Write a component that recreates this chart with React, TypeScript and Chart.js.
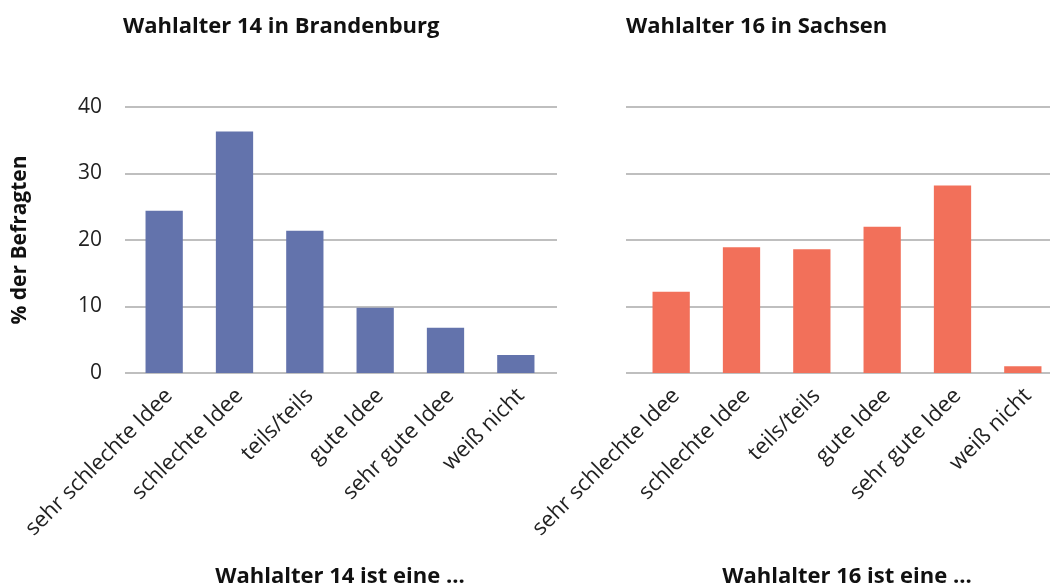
import React, { useEffect, useRef } from "react";
import { Chart, registerables } from "chart.js";

Chart.register(...registerables);

const categories = [
  "sehr schlechte Idee",
  "schlechte Idee",
  "teils/teils",
  "gute Idee",
  "sehr gute Idee",
  "weiß nicht",
];
const brandenburg = [24.4, 36.3, 21.4, 9.8, 6.8, 2.7];
const sachsen = [12.2, 18.9, 18.6, 22.0, 28.2, 1.0];
const yTicks = [0, 10, 20, 30, 40];

const titleLeft = "Wahlalter 14 in Brandenburg";
const titleRight = "Wahlalter 16 in Sachsen";
const xTitleLeft = "Wahlalter 14 ist eine ...";
const xTitleRight = "Wahlalter 16 ist eine ...";
const yTitle = "% der Befragten";

const BLUE = "#6373AC";
const RED = "#F2705A";
const GRID = "#BFBFBF";
const FONT = "'Open Sans', sans-serif";

const gridPlugin = {
  id: "extGrid",
  beforeDatasetsDraw(chart: any, _args: any, opts: any) {
    const { ctx, chartArea } = chart;
    const y = chart.scales.y;
    ctx.save();
    ctx.strokeStyle = GRID;
    ctx.lineWidth = 2;
    yTicks.forEach((v) => {
      const py = Math.round(y.getPixelForValue(v));
      ctx.beginPath();
      ctx.moveTo(chartArea.left - (opts.extL ?? 4), py);
      ctx.lineTo(chartArea.right + (opts.extR ?? 6), py);
      ctx.stroke();
    });
    ctx.restore();
  },
};

const panelTitlePlugin = {
  id: "panelTitle",
  afterDraw(chart: any, _args: any, opts: any) {
    const { ctx, chartArea } = chart;
    ctx.save();
    ctx.font = `bold 22px ${FONT}`;
    ctx.fillStyle = "#111";
    ctx.textBaseline = "alphabetic";
    ctx.textAlign = "left";
    ctx.fillText(opts.text, chartArea.left - (opts.dx ?? 0), 33);
    ctx.restore();
  },
};

function makeConfig(
  data: number[],
  color: string,
  title: string,
  xTitle: string,
  left: boolean
): any {
  return {
    type: "bar",
    data: {
      labels: categories,
      datasets: [
        {
          data,
          backgroundColor: color,
          barPercentage: 0.53,
          categoryPercentage: 1,
        },
      ],
    },
    plugins: [gridPlugin, panelTitlePlugin],
    options: {
      responsive: false,
      animation: false,
      layout: {
        padding: { top: 107, right: left ? 9 : 12, bottom: 0, left: 0 },
      },
      plugins: {
        legend: { display: false },
        tooltip: { enabled: false },
        extGrid: { extL: left ? 4 : 10, extR: 6 },
        panelTitle: { text: title, dx: left ? 6 : 10 },
      },
      scales: {
        x: {
          grid: { display: false, drawTicks: false },
          border: { display: false },
          ticks: {
            color: "#222",
            font: { family: FONT, size: 22, lineHeight: 1.2 },
            minRotation: 45,
            maxRotation: 45,
            padding: 10,
            labelOffset: 5,
          },
          title: {
            display: true,
            text: xTitle,
            color: "#111",
            font: { family: FONT, size: 22, weight: "bold", lineHeight: 1 },
            padding: { top: 0, bottom: 0 },
          },
          afterFit: (scale: any) => {
            scale.height = 588 - 373;
            scale.paddingLeft = 0;
            scale.paddingRight = 0;
          },
        },
        y: {
          min: 0,
          max: 40,
          grid: { display: false },
          border: { display: false },
          ticks: {
            display: left,
            stepSize: 10,
            color: "#222",
            font: { family: FONT, size: 21 },
            padding: 19,
          },
          title: {
            display: left,
            text: yTitle,
            color: "#111",
            font: { family: FONT, size: 21, weight: "bold", lineHeight: 1.2 },
            padding: { top: 7, bottom: 0 },
          },
          afterFit: (scale: any) => {
            scale.width = left ? 129 : 136;
          },
        },
      },
    },
  };
}

export default function App() {
  const leftRef = useRef<HTMLCanvasElement | null>(null);
  const rightRef = useRef<HTMLCanvasElement | null>(null);

  useEffect(() => {
    let c1: Chart | null = null;
    let c2: Chart | null = null;
    let cancelled = false;
    const build = () => {
      if (cancelled) return;
      c1 = new Chart(
        leftRef.current as HTMLCanvasElement,
        makeConfig(brandenburg, BLUE, titleLeft, xTitleLeft, true)
      );
      c2 = new Chart(
        rightRef.current as HTMLCanvasElement,
        makeConfig(sachsen, RED, titleRight, xTitleRight, false)
      );
    };
    const fonts: any = (document as any).fonts;
    if (fonts && fonts.load) {
      Promise.all([
        fonts.load("21px 'Open Sans'"),
        fonts.load("bold 22px 'Open Sans'"),
      ])
        .catch(() => null)
        .then(build);
    } else {
      build();
    }
    return () => {
      cancelled = true;
      if (c1) c1.destroy();
      if (c2) c2.destroy();
    };
  }, []);

  return (
    <div
      style={{
        position: "absolute",
        left: 0,
        top: 0,
        width: 1050,
        height: 588,
        overflow: "hidden",
        background: "#fff",
      }}
    >
      <canvas
        ref={leftRef}
        width={560}
        height={588}
        style={{ position: "absolute", left: 0, top: 0, width: 560, height: 588 }}
      />
      <canvas
        ref={rightRef}
        width={570}
        height={588}
        style={{ position: "absolute", left: 500, top: 0, width: 570, height: 588 }}
      />
    </div>
  );
}
